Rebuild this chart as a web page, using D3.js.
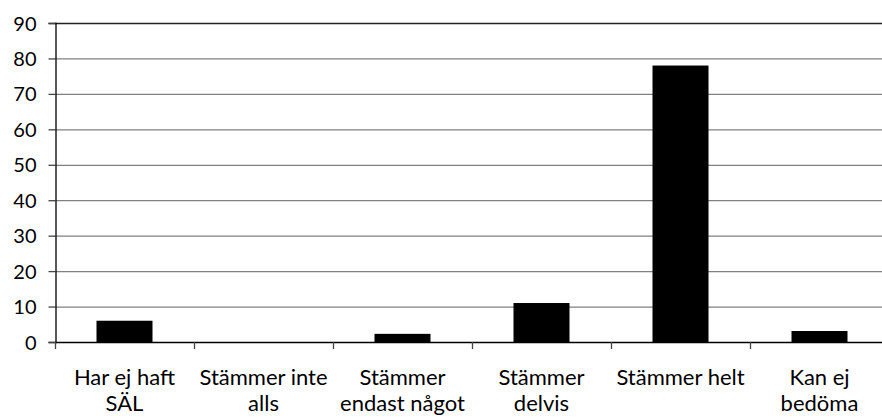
<!DOCTYPE html>
<html><head><meta charset="utf-8">
<script src="https://cdn.jsdelivr.net/npm/d3@7"></script>
<style>body{margin:0;background:#fff;overflow:hidden}svg{display:block}</style>
</head><body>
<svg id="chart" width="882" height="419"></svg>
<script>
const categories = [["Har ej haft","SÄL"],["Stämmer inte","alls"],["Stämmer","endast något"],["Stämmer","delvis"],["Stämmer helt"],["Kan ej","bedöma"]];
const values = [6, 0, 2.3, 11, 78, 3.1];
const yTicks = [0,10,20,30,40,50,60,70,80,90];

(function(){
const svg = d3.select("#chart");
const mLeft = 55, mTop = 23, mBottom = 342, bandW = 139;
const mRight = mLeft + bandW * categories.length;
const font = "Lato, 'Open Sans', sans-serif";

const x = d3.scaleBand().domain(d3.range(categories.length)).range([mLeft, mRight]).paddingInner(0).paddingOuter(0);
const y = d3.scaleLinear().domain([0, 90]).range([mBottom, mTop]);

svg.append("g").selectAll("line").data(yTicks.filter(t => t > 0 && t < 90)).join("line")
  .attr("x1", mLeft).attr("x2", mRight)
  .attr("y1", d => y(d) + 0.5).attr("y2", d => y(d) + 0.5)
  .attr("stroke", "#808080").attr("stroke-width", 1.3);
svg.append("line").attr("x1", mLeft).attr("x2", mRight).attr("y1", y(90) + 0.5).attr("y2", y(90) + 0.5)
  .attr("stroke", "#222").attr("stroke-width", 1.3);

const bw = 56;
svg.append("g").selectAll("rect").data(values).join("rect")
  .attr("x", (d, i) => x(i) + (bandW - bw) / 2)
  .attr("width", bw)
  .attr("y", d => y(d))
  .attr("height", d => mBottom - y(d))
  .attr("fill", "#000");

const yAxis = svg.append("g").attr("transform", `translate(${mLeft + 0.5},0)`)
  .call(d3.axisLeft(y).tickValues(yTicks).tickSize(7).tickPadding(6).tickFormat(d3.format("d")));
yAxis.select(".domain").attr("stroke", "#000").attr("stroke-width", 1.3);
yAxis.selectAll(".tick line").attr("stroke", "#444").attr("stroke-width", 1.3);
yAxis.selectAll(".tick text").attr("font-family", font).attr("font-size", 20).attr("fill", "#000").attr("x", -19).attr("dy", "0.35em");

svg.append("line").attr("x1", mLeft).attr("x2", mRight).attr("y1", mBottom + 0.5).attr("y2", mBottom + 0.5)
  .attr("stroke", "#000").attr("stroke-width", 1.3);
svg.append("g").selectAll("line").data(d3.range(categories.length + 1)).join("line")
  .attr("x1", i => mLeft + i * bandW + 0.5).attr("x2", i => mLeft + i * bandW + 0.5)
  .attr("y1", mBottom).attr("y2", mBottom + 7)
  .attr("stroke", "#444").attr("stroke-width", 1.3);

const lbl = svg.append("g").selectAll("text").data(categories).join("text")
  .attr("text-anchor", "middle")
  .attr("font-family", font).attr("font-size", 22).attr("fill", "#000")
  .attr("x", (d, i) => x(i) + bandW / 2)
  .attr("y", 385);
lbl.selectAll("tspan").data(d => d).join("tspan")
  .attr("x", function() { return d3.select(this.parentNode).attr("x"); })
  .attr("dy", (d, i) => i === 0 ? 0 : 26)
  .text(d => d);
})();
</script>
</body></html>
